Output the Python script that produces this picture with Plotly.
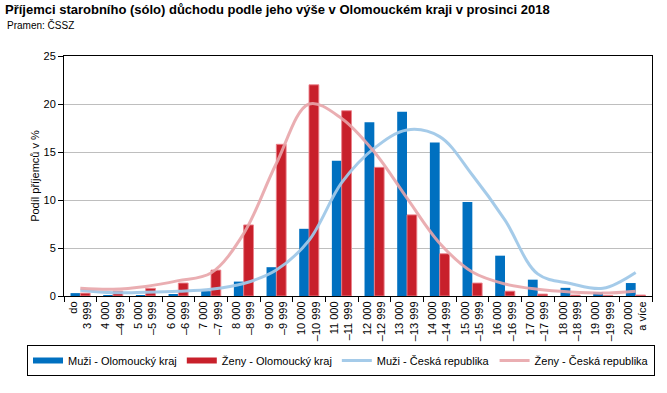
import plotly.graph_objects as go

categories = ["do<br>3 999", "4 000<br>–4 999", "5 000<br>–5 999", "6 000<br>–6 999",
              "7 000<br>–7 999", "8 000<br>–8 999", "9 000<br>–9 999", "10 000<br>–10 999",
              "11 000<br>–11 999", "12 000<br>–12 999", "13 000<br>–13 999", "14 000<br>–14 999",
              "15 000<br>–15 999", "16 000<br>–16 999", "17 000<br>–17 999", "18 000<br>–18 999",
              "19 000<br>–19 999", "20 000<br>a více"]

muzi_olomoucky = [0.3, 0.1, 0.1, 0.2, 0.5, 1.5, 3.0, 7.0, 14.1, 18.1, 19.2, 16.0,
                  9.8, 4.2, 1.7, 0.85, 0.4, 1.35]
zeny_olomoucky = [0.3, 0.5, 0.8, 1.35, 2.7, 7.4, 15.8, 22.0, 19.3, 13.4, 8.45, 4.4,
                  1.35, 0.5, 0.2, 0.1, 0.05, 0.1]
muzi_cr = [0.6, 0.35, 0.4, 0.5, 0.7, 1.3, 2.7, 5.8, 11.8, 15.4, 17.3, 16.6,
           12.6, 7.9, 2.3, 1.3, 0.8, 2.45]
zeny_cr = [0.8, 0.7, 1.0, 1.6, 2.4, 6.5, 13.8, 20.0, 18.5, 15.0, 10.2, 5.5,
           2.5, 1.25, 0.7, 0.42, 0.3, 0.5]

series_names = ["Muži - Olomoucký kraj", "Ženy - Olomoucký kraj",
                "Muži - Česká republika", "Ženy - Česká republika"]

C_BLUE = "#0070C0"
C_RED = "#C8202B"
C_LBLUE = "rgba(160,200,232,0.95)"
C_PINK = "rgba(232,165,170,0.9)"

FONT = "Liberation Sans, Arial, sans-serif"
x = list(range(len(categories)))

fig = go.Figure()
fig.add_trace(go.Bar(x=x, y=muzi_olomoucky, name=series_names[0], marker_color=C_BLUE,
                     marker_line_width=0, showlegend=False))
fig.add_trace(go.Bar(x=x, y=zeny_olomoucky, name=series_names[1], marker_color=C_RED,
                     marker_line=dict(color="rgba(235,130,140,0.9)", width=1), showlegend=False))
fig.add_trace(go.Scatter(x=x, y=muzi_cr, mode="lines", name=series_names[2],
                         line=dict(color=C_LBLUE, width=3, shape="spline", smoothing=1.0),
                         showlegend=False))
fig.add_trace(go.Scatter(x=x, y=zeny_cr, mode="lines", name=series_names[3],
                         line=dict(color=C_PINK, width=3, shape="spline", smoothing=1.0),
                         showlegend=False))

# legend entries
for name, col, w in zip(series_names, [C_BLUE, C_RED, C_LBLUE, C_PINK], [6, 6, 3, 3]):
    fig.add_trace(go.Scatter(x=[None], y=[None], mode="lines", name=name,
                             line=dict(color=col, width=w)))

fig.update_layout(
    width=667, height=393,
    margin=dict(l=64, r=15, t=56, b=97, autoexpand=False),
    paper_bgcolor="white", plot_bgcolor="white",
    font=dict(family=FONT, size=11, color="black"),
    barmode="group", bargap=0.4, bargroupgap=0.0,
    title=dict(text="<b>Příjemci starobního (sólo) důchodu podle jeho výše v Olomouckém kraji v prosinci 2018</b>",
               x=5 / 667, xanchor="left", xref="container",
               y=1 - 9 / 393, yanchor="middle", yref="container",
               font=dict(family=FONT, size=13, color="black")),
    annotations=[dict(text="Pramen: ČSSZ", xref="paper", yref="paper",
                      x=(5 - 64) / 588, xanchor="left", y=(296 - 25) / 240, yanchor="middle",
                      showarrow=False, font=dict(family=FONT, size=10, color="black"))],
    legend=dict(orientation="h", x=(27 - 64) / 588, xanchor="left",
                y=(296 - 345) / 240, yanchor="top",
                bordercolor="black", borderwidth=1,
                font=dict(family=FONT, size=11, color="black"),
                itemwidth=30, tracegroupgap=0),
    showlegend=True,
)

fig.update_xaxes(
    type="category", tickmode="array", tickvals=x, ticktext=categories,
    range=[-0.5, len(categories) - 0.5], automargin=False,
    tickangle=-90, tickson="boundaries", ticks="outside", ticklen=5, tickcolor="black",
    showline=True, linecolor="black", linewidth=1, mirror=True,
    showgrid=False, tickfont=dict(family=FONT, size=11, color="black"),
)
fig.update_yaxes(
    range=[0, 25], dtick=5, ticks="outside", ticklen=5, tickcolor="black", automargin=False,
    showline=True, linecolor="black", linewidth=1, mirror=True,
    showgrid=True, gridcolor="#BEBEBE", gridwidth=1, zeroline=False,
    tickfont=dict(family=FONT, size=11, color="black"),
    title=dict(text="Podíl příjemců v %", font=dict(family=FONT, size=11, color="black"), standoff=1),
)

fig.write_html("out.html", config={"displayModeBar": False},
               post_script="document.body.style.margin='0';document.body.style.overflow='hidden';")
